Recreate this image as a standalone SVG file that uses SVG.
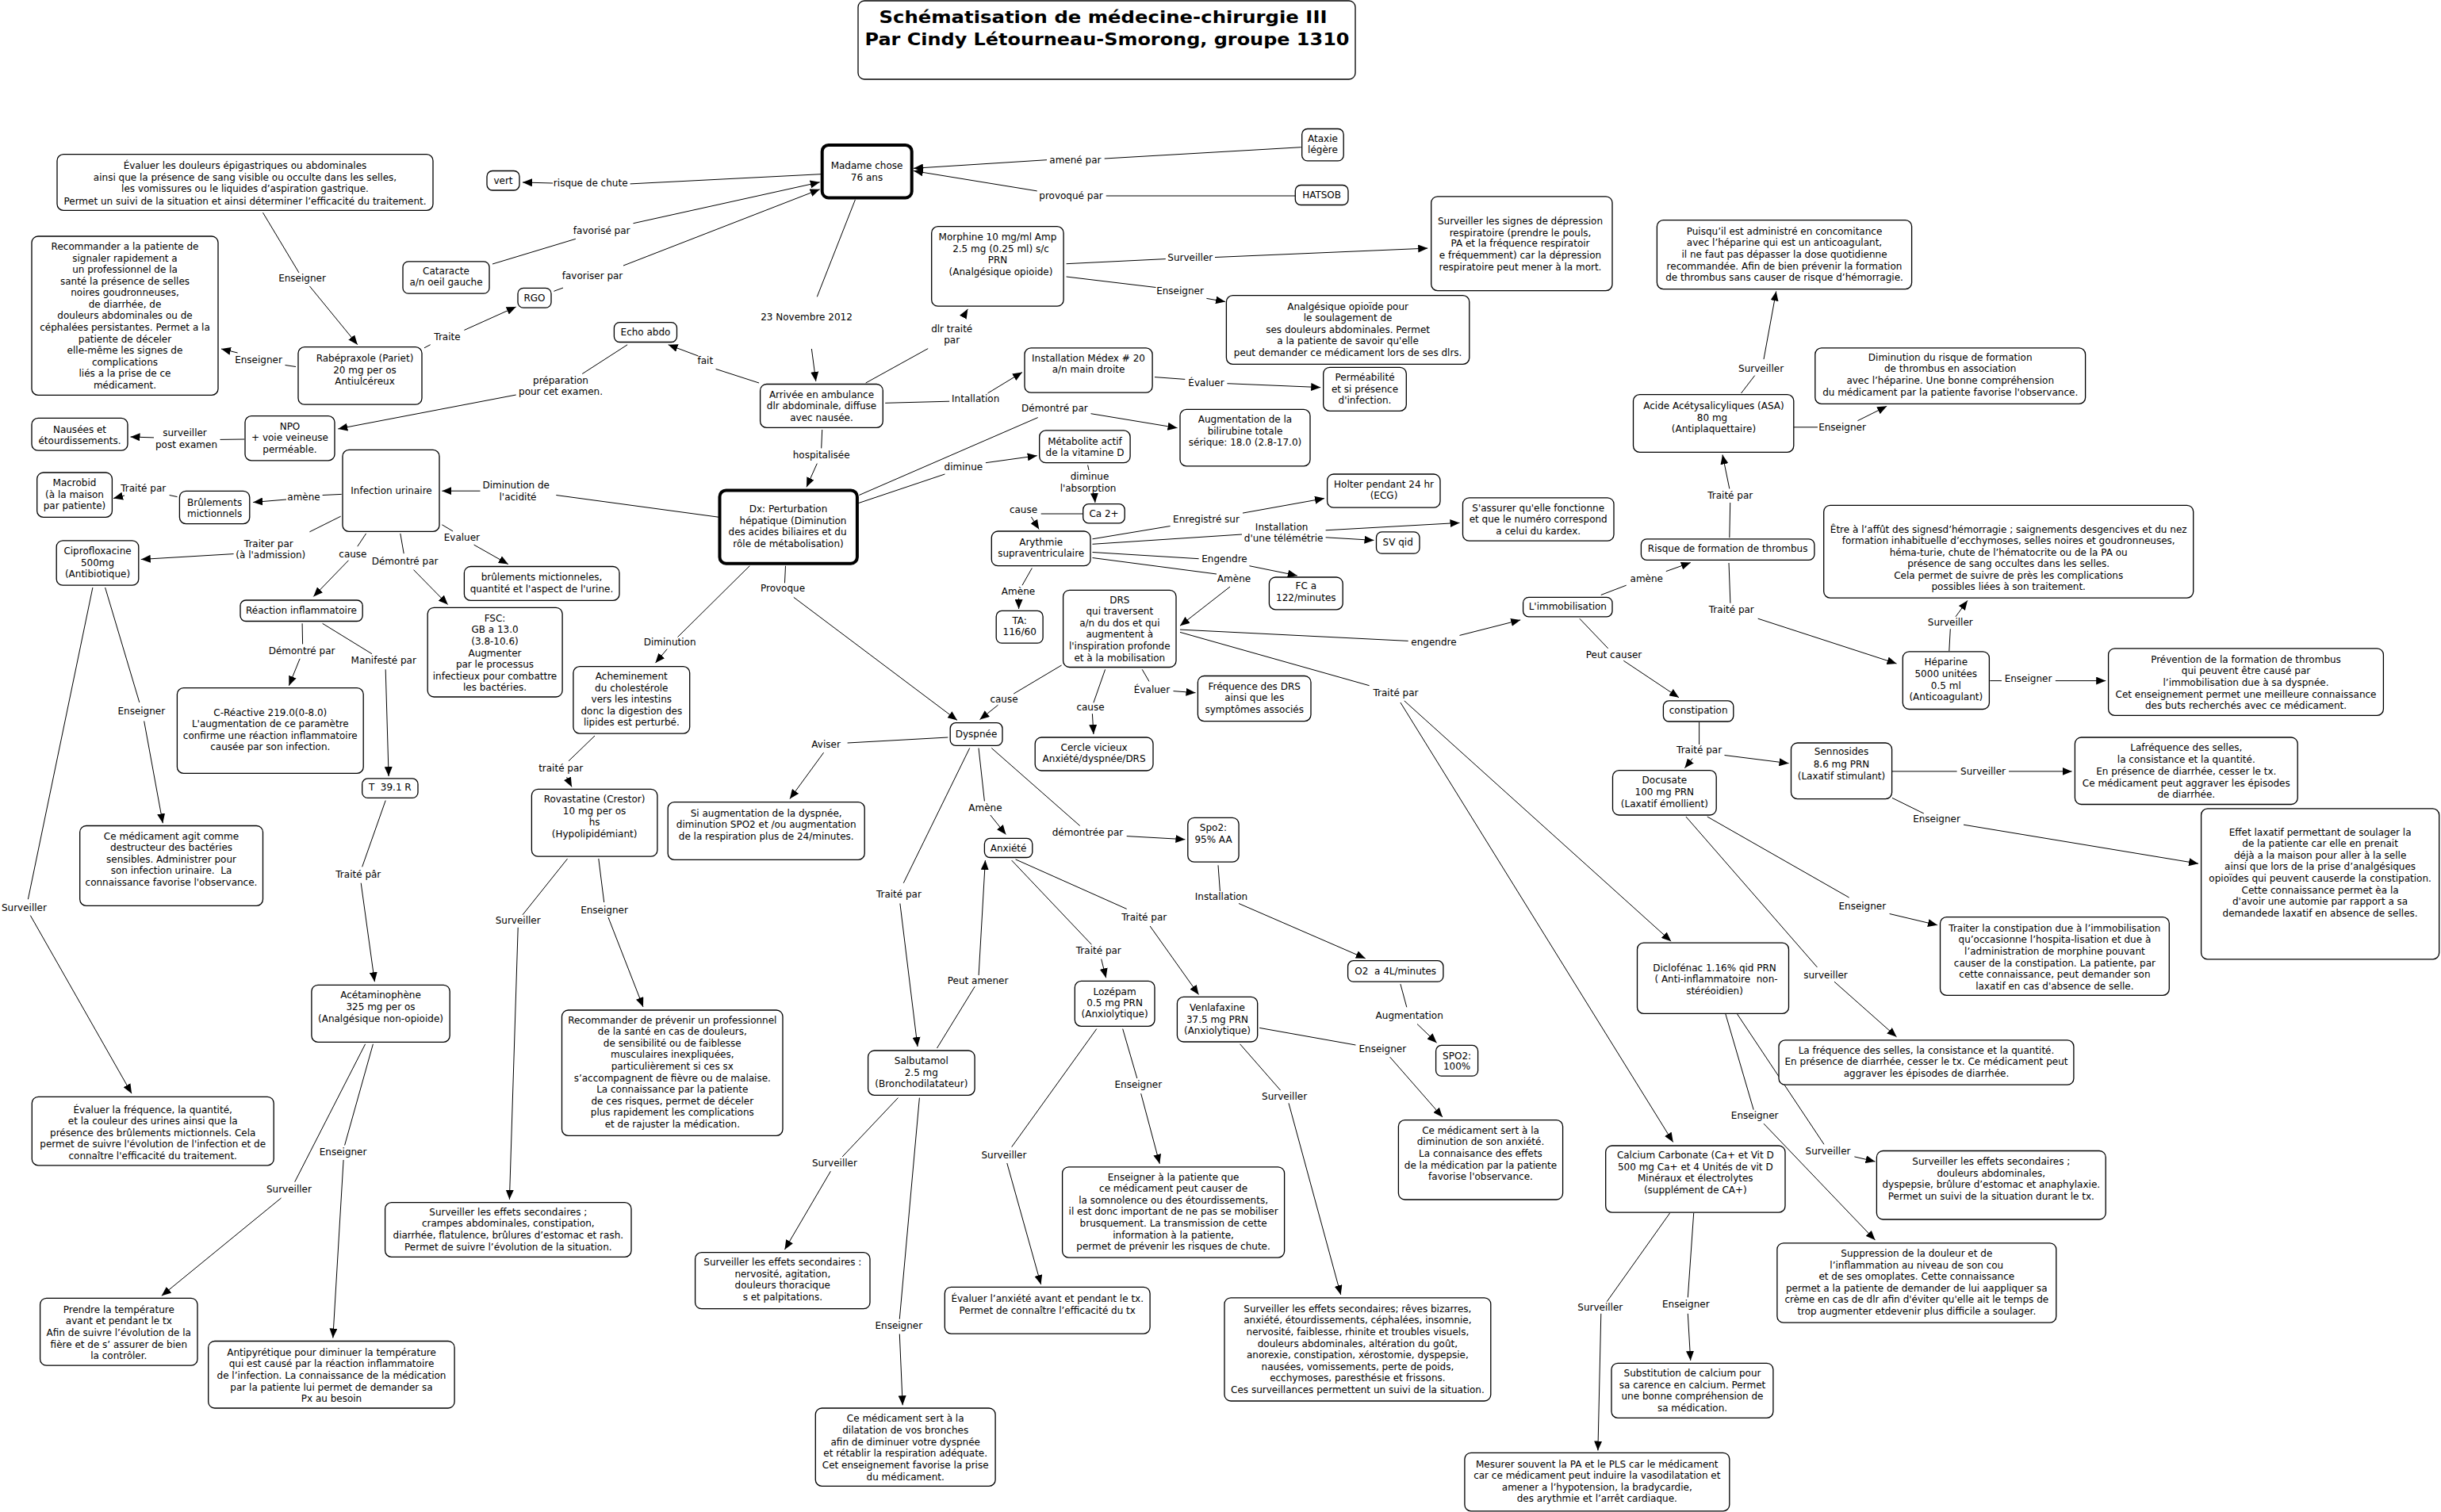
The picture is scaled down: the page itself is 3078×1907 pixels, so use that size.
<svg xmlns="http://www.w3.org/2000/svg" width="3078" height="1907" viewBox="0 0 3078 1907">
<style>
.n{fill:#fff;stroke:#000;stroke-width:1.3}
.nb{fill:#fff;stroke:#000;stroke-width:4}
text{font-family:"DejaVu Sans",Verdana,sans-serif;font-size:12px;text-anchor:middle;dominant-baseline:central;fill:#000}
.ti{font-weight:bold;font-size:22px}
.c path{stroke:#000;stroke-width:1;fill:none;marker-end:url(#ar)}
.c path.l{marker-end:none}
</style>
<defs>
<marker id="ar" viewBox="0 0 12 10" refX="12" refY="5" markerWidth="12" markerHeight="10" markerUnits="userSpaceOnUse" orient="auto"><path d="M0,0 L12,5 L0,10 z" fill="#000"/></marker>
</defs>
<rect width="3078" height="1907" fill="#fff"/>

<g class="c" id="connectors">
<path d="M1036.7,219.6 L794.6,231.9 M697,231 L659,230"/>
<text x="744.7" y="231">risque de chute</text>
<path d="M621,333 L725.9,301.3 M798.5,281.7 L1033.7,229.8"/>
<text x="758.7" y="290.6">favorisé par</text>
<path d="M698.4,367.3 L710,363 M786,335 L1033.7,238.8"/>
<text x="747" y="347.8">favoriser par</text>
<path d="M1640.7,185.7 L1392.7,200 M1320,201.7 L1152,212.3"/>
<text x="1355.9" y="201.7">amené par</text>
<path d="M1633.3,247 L1394.7,247 M1307.7,240.9 L1152,215.5"/>
<text x="1350.5" y="247">provoqué par</text>
<path d="M1078.4,251.9 L1030.3,374.3 M1023.4,440 L1028.8,480.9"/>
<text x="1017" y="400">23 Novembre 2012</text>
<path d="M957.1,483 L902.6,465.4 M880.5,449 L842.7,434.8"/>
<text x="889.3" y="455.2">fait</text>
<path d="M791.1,434.8 L734.2,471.5 M650.7,498 L426.3,540.9"/>
<text x="707" y="479.6">préparation</text>
<text x="707" y="494.3">pour cet examen.</text>
<path d="M308,554 L277.5,554.4 M194,551.9 L164.5,551"/>
<text x="233" y="545.8">surveiller</text>
<text x="235" y="560.5">post examen</text>
<path d="M331.5,268.2 L377,344 M390.4,360.9 L450.8,434.7"/>
<text x="381" y="350.6">Enseigner</text>
<path d="M373,462.5 L359.5,460.5 M299.6,445 L279,440"/>
<text x="326" y="453.5">Enseigner</text>
<path d="M535,438.8 L542.7,434.7 M585.4,416.4 L650.7,387"/>
<text x="564" y="425.3">Traite</text>
<path d="M1091.7,483 L1170.2,439.6 M1214.4,400 L1220.3,389.8"/>
<text x="1200.2" y="414.8">dlr traité</text>
<text x="1200.2" y="429.4">par</text>
<path d="M1344.6,332.7 L1469.8,326.6 M1532,324.5 L1800.2,313.1"/>
<text x="1500.8" y="325">Surveiller</text>
<path d="M1344.6,349 L1457.5,362.5 M1521.4,376.4 L1545,380.5"/>
<text x="1488" y="366.6">Enseigner</text>
<path d="M1116.2,508.3 L1197.2,506.2 M1245.4,496 L1289,469.5"/>
<text x="1230.2" y="502.9">Intallation</text>
<path d="M1456,475.6 L1494.3,478.4 M1547.4,483.7 L1665.2,488.6"/>
<text x="1521" y="483.3">Évaluer</text>
<path d="M1036.7,542 L1035.7,565.4 M1030.3,584.6 L1017,614.3"/>
<text x="1035.7" y="573.5">hospitalisée</text>
<path d="M1083.3,624.5 L1308.7,526.6 M1375.5,521.7 L1484.5,539.7"/>
<text x="1329.9" y="515.2">Démontré par</text>
<path d="M1081.8,634.8 L1191.4,598 M1242.9,583.7 L1307.7,574.7"/>
<text x="1214.9" y="588.6">diminue</text>
<path d="M1371.6,586.6 L1373,593 M1380,623 L1380.9,634"/>
<text x="1374" y="600.9">diminue</text>
<text x="1372" y="615.6">l'absorption</text>
<path d="M1365.2,648 L1312.7,648 M1300.4,652 L1310.2,667.6"/>
<text x="1290.5" y="642.7">cause</text>
<path d="M1377.5,679.8 L1475.6,663.5 M1567,647.1 L1670,628.6"/>
<text x="1521" y="654.5">Enregistré sur</text>
<path d="M1377.5,686.3 L1566,674 M1671.6,668.8 L1840.5,659.4"/>
<path d="M1671.6,677.8 L1732.5,681.4"/>
<text x="1616.1" y="664.7">Installation</text>
<text x="1618.6" y="679.4">d'une télémétrie</text>
<path d="M1377.5,696.5 L1511.6,704.7 M1575.4,713.7 L1635.8,726"/>
<text x="1544" y="704.7">Engendre</text>
<path d="M1377.5,703.5 L1534,724 M1551,740 L1488,789.2"/>
<text x="1556" y="730">Amène</text>
<path d="M1301.3,716.5 L1289,738.2 M1284.6,754.5 L1284.6,768"/>
<text x="1284" y="746.3">Amène</text>
<path d="M1338.6,839 L1278.2,875 M1258.5,889.2 L1235.5,907.6"/>
<text x="1266" y="881.9">cause</text>
<path d="M1393.6,844.3 L1378.9,886.3 M1377.4,900.2 L1378.9,926"/>
<text x="1375" y="892.4">cause</text>
<path d="M1440.2,844.3 L1449,859.4 M1479.5,871.6 L1507.5,873.7"/>
<text x="1452.5" y="869.6">Évaluer</text>
<path d="M1488,794.1 L1775.7,808.4 M1840.5,801.4 L1917.2,781.9"/>
<text x="1808" y="809.6">engendre</text>
<path d="M1488,797.4 L1726.6,864.7 M1770.8,883.9 L2107.2,1187.2"/>
<path d="M1765.9,886 L2109.7,1440.5"/>
<text x="1760" y="873.7">Traité par</text>
<path d="M907.5,652.4 L701.3,624.5 M605.5,619.2 L557.4,619.2"/>
<text x="650.7" y="612.3">Diminution de</text>
<text x="653" y="626.6">l'acidité</text>
<path d="M430.7,623.4 L406.6,624.5 M361,630 L319.2,633.5"/>
<text x="383" y="626.6">amène</text>
<path d="M223.5,626.6 L213.6,624.5 M157,625 L143,628.6"/>
<text x="180.7" y="615.5">Traité par</text>
<path d="M429.7,651.2 L390.4,670.8 M294.6,698.6 L177.8,705.5"/>
<text x="338.8" y="685.5">Traiter par</text>
<text x="341.3" y="700.2">(à l'admission)</text>
<path d="M461.6,672.9 L450.8,689.2 M439.5,706.7 L395.3,752.4"/>
<text x="444.9" y="698.6">cause</text>
<path d="M504.8,672.9 L509.2,698.2 M521.5,718.6 L564.7,762.6"/>
<text x="510.6" y="707.5">Démontré par</text>
<path d="M557.4,661.8 L571.1,670 M597.6,687.1 L640.8,711.6"/>
<text x="582.4" y="677.8">Evaluer</text>
<path d="M381.1,786.3 L381.6,812.4 M378.1,830.8 L364.4,864.7"/>
<text x="380.6" y="820.6">Démontré par</text>
<path d="M406.6,786.3 L469,824.7 M486.2,844.3 L490.1,979"/>
<text x="483.7" y="833.3">Manifesté par</text>
<path d="M486.2,1009.6 L456.7,1093.3 M455.2,1113.7 L472.4,1238.2"/>
<text x="451.8" y="1102.8">Traité pâr</text>
<path d="M132.6,741 L175.8,885.9 M181.7,909.5 L205.3,1038.2"/>
<text x="178.3" y="896.5">Enseigner</text>
<path d="M116.9,741 L35.4,1134.2 M38.3,1154.6 L166,1379.2"/>
<text x="30.4" y="1144.8">Surveiller</text>
<path d="M460.6,1316.8 L371.7,1490.7 M354.5,1511 L203.8,1634.3"/>
<text x="364.4" y="1499.7">Surveiller</text>
<path d="M470.4,1316.8 L434.6,1444.5 M433.1,1463 L419.8,1687.5"/>
<text x="432.6" y="1452.7">Enseigner</text>
<path d="M945.3,713.7 L854.5,803.5 M841.2,818.6 L826.5,836.1"/>
<text x="844.6" y="810.4">Diminution</text>
<path d="M750,928 L717,959.8 M714.6,980.2 L721,992.4"/>
<text x="707.2" y="968.8">traité par</text>
<path d="M715.5,1083.1 L659,1153.8 M653.2,1169.8 L642.4,1512.8"/>
<text x="653.2" y="1160.7">Surveiller</text>
<path d="M754.8,1083 L761.7,1138 M767,1157 L811,1270"/>
<text x="762" y="1147.6">Enseigner</text>
<path d="M990.5,713.7 L989.5,735.3 M1000.8,753.3 L1207,908.4"/>
<text x="987" y="742.2">Provoque</text>
<path d="M1195.3,930 L1068.6,937 M1038.6,949.2 L995.9,1007.6"/>
<text x="1041.6" y="939.4">Aviser</text>
<path d="M1234,943.5 L1241.4,1010.4 M1248.8,1028 L1268.4,1052.5"/>
<text x="1242.4" y="1018.6">Amène</text>
<path d="M1250.3,943.5 L1361.7,1041.5 M1420.7,1054.6 L1494.4,1058.7"/>
<text x="1371.5" y="1050.4">démontrée par</text>
<path d="M1222.7,943.5 L1139.3,1113.7 M1134.9,1139.5 L1157,1320"/>
<text x="1133.4" y="1128.4">Traité par</text>
<path d="M1181.5,1322 L1229.2,1244.3 M1234.1,1230 L1242.4,1085.1"/>
<text x="1233.1" y="1236.6">Peut amener</text>
<path d="M1275.7,1085.1 L1376.4,1191.3 M1388.7,1209.6 L1394.6,1233.3"/>
<text x="1385.3" y="1199.4">Traité par</text>
<path d="M1280.6,1083.9 L1420.7,1146.4 M1450.1,1168 L1511.5,1254.5"/>
<text x="1442.7" y="1156.6">Traité par</text>
<path d="M1536,1091.3 L1538.4,1124 M1562,1139.5 L1721.7,1208.8"/>
<text x="1540" y="1131">Installation</text>
<path d="M1765.9,1241.1 L1773.8,1270.3 M1787,1291.5 L1811.6,1315.2"/>
<text x="1777.2" y="1280.5">Augmentation</text>
<path d="M1132.4,1384.6 L1062.2,1458.9 M1047.4,1477.2 L989.5,1576"/>
<text x="1052.4" y="1467">Surveiller</text>
<path d="M1159.4,1384.6 L1134.3,1663.7 M1134.3,1682.5 L1138.2,1772.3"/>
<text x="1133.3" y="1671.9">Enseigner</text>
<path d="M1382.8,1297.6 L1275.7,1446.6 M1269.8,1467 L1312.6,1620.1"/>
<text x="1265.9" y="1456.8">Surveiller</text>
<path d="M1415.7,1297.6 L1433.8,1360 M1438.7,1379.2 L1462.3,1467.8"/>
<text x="1435.3" y="1367.8">Enseigner</text>
<path d="M1588.1,1296.4 L1709.4,1318 M1752.6,1333.1 L1819,1409"/>
<text x="1743.3" y="1322.5">Enseigner</text>
<path d="M1563.6,1316.8 L1614.6,1375.1 M1625,1391.4 L1690.7,1633"/>
<text x="1619.6" y="1382.5">Surveiller</text>
<path d="M2018.8,750.4 L2050.7,738.2 M2100.8,720.6 L2131.8,709.6"/>
<text x="2076.3" y="729.6">amène</text>
<path d="M1991.8,780.2 L2027.7,817.8 M2047.3,833.3 L2117,879.8"/>
<text x="2035" y="826">Peut causer</text>
<path d="M2180.8,678.2 L2181.7,634 M2180.8,616.4 L2172,573.5"/>
<text x="2181.7" y="625.4">Traité par</text>
<path d="M2180,710 L2181.9,760.7 M2216.7,780.2 L2391.5,837"/>
<text x="2183.3" y="768.8">Traité par</text>
<path d="M2195.5,496 L2212.7,473.6 M2224,453.1 L2239.7,367.4"/>
<text x="2220.6" y="465.4">Surveiller</text>
<path d="M2261.8,538.8 L2292,538.8 M2342.4,530.7 L2379.2,512.3"/>
<text x="2323" y="538.8">Enseigner</text>
<path d="M2457.8,821 L2459.3,793.3 M2466,777.8 L2480.9,757.4"/>
<text x="2459.3" y="784.7">Surveiller</text>
<path d="M2509.3,858.6 L2524,858.6 M2591.8,858.6 L2655.2,858.6"/>
<text x="2557.5" y="856.4">Enseigner</text>
<path d="M2142.6,911 L2142.6,939 M2134.2,956.6 L2124.4,968.8"/>
<path d="M2174.5,952.5 L2255.5,962.7"/>
<text x="2142.6" y="946.4">Traité par</text>
<path d="M2386,972.9 L2467.6,972.9 M2533,972.9 L2612.5,972.9"/>
<text x="2500.5" y="972.9">Surveiller</text>
<path d="M2386,1006.4 L2425.8,1026 M2476,1040.2 L2772,1089.2"/>
<text x="2442" y="1033.3">Enseigner</text>
<path d="M2152.8,1030 L2331.6,1132 M2382.6,1152.5 L2443,1166.8"/>
<text x="2348.3" y="1143">Enseigner</text>
<path d="M2125.9,1030 L2291.4,1219.9 M2313,1238.2 L2391.5,1307.8"/>
<text x="2302" y="1230">surveiller</text>
<path d="M2175.9,1279 L2211.2,1399.7 M2224,1417.2 L2364.5,1564.1"/>
<text x="2212.7" y="1406.6">Enseigner</text>
<path d="M2190.6,1279 L2300,1443.3 M2338.4,1458.9 L2364.5,1465"/>
<text x="2305" y="1452">Surveiller</text>
<path d="M2105.6,1530 L2026.2,1641.7 M2018.8,1656.8 L2014.9,1829.5"/>
<text x="2017.8" y="1648.6">Surveiller</text>
<path d="M2135.7,1530 L2128.3,1636.4 M2128.3,1656.8 L2131.7,1716"/>
<text x="2125.8" y="1645.3">Enseigner</text>
</g>

<g id="title"><rect class="n" x="1082" y="1" width="627" height="99" rx="8"/>
<text class="ti" x="1391" y="21" textLength="565" lengthAdjust="spacingAndGlyphs">Schématisation de médecine-chirurgie III</text>
<text class="ti" x="1396" y="49" textLength="611" lengthAdjust="spacingAndGlyphs">Par Cindy Létourneau-Smorong, groupe 1310</text></g>

<g id="madame"><rect class="nb" x="1036.7" y="182.9" width="113" height="66.5" rx="8"/>
<text><tspan x="1093" y="209">Madame chose</tspan><tspan x="1093" y="223.7">76 ans</tspan></text></g>
<g id="vert"><rect class="n" x="614" y="215.5" width="41" height="24.5" rx="7"/><text x="634.5" y="228">vert</text></g>
<g id="ataxie"><rect class="n" x="1641.7" y="162.5" width="52.5" height="40.4" rx="7"/>
<text><tspan x="1668" y="174.7">Ataxie</tspan><tspan x="1668" y="189">légère</tspan></text></g>
<g id="hatsob"><rect class="n" x="1633.3" y="233.5" width="66.7" height="25" rx="7"/><text x="1666.6" y="246">HATSOB</text></g>
<g id="evaldouleurs"><rect class="n" x="72" y="194.7" width="474" height="70.6" rx="8"/>
<text><tspan x="309" y="209.4">Évaluer les douleurs épigastriques ou abdominales</tspan><tspan x="309" y="224.1">ainsi que la présence de sang visible ou occulte dans les selles,</tspan><tspan x="309" y="238.4">les vomissures ou le liquides d’aspiration gastrique.</tspan><tspan x="309" y="253.5">Permet un suivi de la situation et ainsi déterminer l’efficacité du traitement.</tspan></text></g>
<g id="recommander"><rect class="n" x="40" y="298" width="235" height="200.4" rx="8"/>
<text><tspan x="157.5" y="311">Recommander a la patiente de</tspan><tspan x="157.5" y="325.6">signaler rapidement a</tspan><tspan x="157.5" y="340.2">un professionnel de la</tspan><tspan x="157.5" y="354.7">santé la présence de selles</tspan><tspan x="157.5" y="369.3">noires goudronneuses,</tspan><tspan x="157.5" y="383.9">de diarrhée, de</tspan><tspan x="157.5" y="398.4">douleurs abdominales ou de</tspan><tspan x="157.5" y="413">céphalées persistantes. Permet a la</tspan><tspan x="157.5" y="427.6">patiente de déceler</tspan><tspan x="157.5" y="442.1">elle-même les signes de</tspan><tspan x="157.5" y="456.7">complications</tspan><tspan x="157.5" y="471.3">liés a la prise de ce</tspan><tspan x="157.5" y="485.8">médicament.</tspan></text></g>
<g id="cataracte"><rect class="n" x="508" y="329.8" width="109" height="40.4" rx="7"/>
<text><tspan x="562.5" y="341.6">Cataracte</tspan><tspan x="562.5" y="356.3">a/n oeil gauche</tspan></text></g>
<g id="rgo"><rect class="n" x="653" y="363.3" width="42" height="24.9" rx="7"/><text x="674" y="375.8">RGO</text></g>
<g id="rabepraxole"><rect class="n" x="376" y="437.6" width="156" height="72.6" rx="8"/>
<text><tspan x="460" y="451.9">Rabépraxole (Pariet)</tspan><tspan x="460" y="466.6">20 mg per os</tspan><tspan x="460" y="480.9">Antiulcéreux</tspan></text></g>
<g id="echo"><rect class="n" x="774.4" y="406.6" width="79.1" height="24.9" rx="7"/><text x="814" y="419">Echo abdo</text></g>
<g id="morphine"><rect class="n" x="1174.7" y="285.7" width="166.4" height="100.5" rx="8"/>
<text><tspan x="1258" y="299.2">Morphine 10 mg/ml Amp</tspan><tspan x="1262" y="313.9">2.5 mg (0.25 ml) s/c</tspan><tspan x="1258" y="327.8">PRN</tspan><tspan x="1262" y="342.9">(Analgésique opioide)</tspan></text></g>
<g id="survsignes"><rect class="n" x="1804.7" y="247.8" width="228.3" height="118.8" rx="8"/>
<text><tspan x="1917" y="278.8">Surveiller les signes de dépression</tspan><tspan x="1917" y="293.5">respiratoire (prendre le pouls,</tspan><tspan x="1917" y="307.4">PA et la fréquence respiratoir</tspan><tspan x="1917" y="322.1">e fréquemment) car la dépression</tspan><tspan x="1917" y="336.8">respiratoire peut mener à la mort.</tspan></text></g>
<g id="analgesique"><rect class="n" x="1546.4" y="372.7" width="306.4" height="86.6" rx="8"/>
<text><tspan x="1699.6" y="386.6">Analgésique  opioïde pour</tspan><tspan x="1699.6" y="401.3">le soulagement de</tspan><tspan x="1699.6" y="416">ses douleurs  abdominales. Permet</tspan><tspan x="1699.6" y="430.3">a la patiente de savoir qu'elle</tspan><tspan x="1699.6" y="445">peut demander ce médicament lors de ses dlrs.</tspan></text></g>
<g id="arrivee"><rect class="n" x="958.6" y="484.5" width="154.7" height="54.8" rx="8"/>
<text><tspan x="1036" y="497.6">Arrivée en ambulance</tspan><tspan x="1036" y="511.9">dlr abdominale, diffuse</tspan><tspan x="1036" y="526.6">avec nausée.</tspan></text></g>
<g id="medex"><rect class="n" x="1292" y="438.9" width="161.1" height="56.3" rx="8"/>
<text><tspan x="1372.5" y="451.5">Installation Médex # 20</tspan><tspan x="1372.5" y="466.2">a/n main droite</tspan></text></g>
<g id="permeabilite"><rect class="n" x="1668.7" y="463.3" width="104.6" height="55.1" rx="8"/>
<text><tspan x="1721" y="476.4">Perméabilité</tspan><tspan x="1721" y="491">et si présence</tspan><tspan x="1721" y="505.3">d'infection.</tspan></text></g>
<g id="npo"><rect class="n" x="309" y="524.6" width="113" height="56.3" rx="8"/>
<text><tspan x="365.5" y="538">NPO</tspan><tspan x="365.5" y="552.3">+ voie veineuse</tspan><tspan x="365.5" y="566.6">perméable.</tspan></text></g>
<g id="nausees"><rect class="n" x="40" y="527.4" width="121" height="40.8" rx="8"/>
<text><tspan x="100.5" y="541.7">Nausées et</tspan><tspan x="100.5" y="556">étourdissements.</tspan></text></g>
<g id="bilirubine"><rect class="n" x="1488" y="516.4" width="164" height="71.4" rx="8"/>
<text><tspan x="1570" y="529">Augmentation de la</tspan><tspan x="1570" y="543.7">bilirubine totale</tspan><tspan x="1570" y="558">sérique: 18.0 (2.8-17.0)</tspan></text></g>
<g id="metabolite"><rect class="n" x="1310.7" y="542.9" width="114.4" height="40.8" rx="8"/>
<text><tspan x="1368" y="556.8">Métabolite actif</tspan><tspan x="1368" y="571">de la vitamine D</tspan></text></g>
<g id="ca"><rect class="n" x="1365.7" y="635.7" width="52.5" height="24.1" rx="7"/><text x="1392" y="648">Ca 2+</text></g>
<g id="holter"><rect class="n" x="1673.6" y="598" width="142.4" height="42.2" rx="8"/>
<text><tspan x="1745" y="611">Holter pendant 24 hr</tspan><tspan x="1745" y="625.4">(ECG)</tspan></text></g>
<g id="sassurer"><rect class="n" x="1844.5" y="627.8" width="190.5" height="54.4" rx="8"/>
<text><tspan x="1939.7" y="641">S'assurer qu'elle fonctionne</tspan><tspan x="1939.7" y="655.3">et que le numéro correspond</tspan><tspan x="1939.7" y="670">a celui du kardex.</tspan></text></g>
<g id="svqid"><rect class="n" x="1735.5" y="670.8" width="54.5" height="27.4" rx="7"/><text x="1762.7" y="684">SV qid</text></g>
<g id="fc"><rect class="n" x="1600.4" y="728" width="92.8" height="40.8" rx="8"/>
<text><tspan x="1646.8" y="739.4">FC a</tspan><tspan x="1646.8" y="754.1">122/minutes</tspan></text></g>
<g id="arythmie"><rect class="n" x="1250.3" y="670" width="124.7" height="43.7" rx="8"/>
<text><tspan x="1312.7" y="683.5">Arythmie</tspan><tspan x="1312.7" y="698.2">supraventriculaire</tspan></text></g>
<g id="ta"><rect class="n" x="1256.2" y="770.4" width="58.9" height="40.8" rx="7"/>
<text><tspan x="1285.7" y="782.7">TA:</tspan><tspan x="1285.7" y="797">116/60</tspan></text></g>
<g id="drs"><rect class="n" x="1340.6" y="744.3" width="142.4" height="97.2" rx="8"/>
<text><tspan x="1411.8" y="756.5">DRS</tspan><tspan x="1411.8" y="771.2">qui traversent</tspan><tspan x="1411.8" y="785.5">a/n du dos et qui</tspan><tspan x="1411.8" y="800.2">augmentent à</tspan><tspan x="1411.8" y="814.9">l'inspiration profonde</tspan><tspan x="1411.8" y="829.6">et à la mobilisation</tspan></text></g>
<g id="cercle"><rect class="n" x="1305.2" y="930" width="148.8" height="42" rx="8"/>
<text><tspan x="1379.6" y="943">Cercle vicieux</tspan><tspan x="1379.6" y="957.4">Anxiété/dyspnée/DRS</tspan></text></g>
<g id="freqdrs"><rect class="n" x="1510.4" y="852.5" width="142.6" height="57.1" rx="8"/>
<text><tspan x="1581.7" y="865.5">Fréquence des DRS</tspan><tspan x="1581.7" y="880.2">ainsi que les</tspan><tspan x="1581.7" y="894.5">symptômes associés</tspan></text></g>
<g id="dx"><rect class="nb" x="907.5" y="618.4" width="173.4" height="92.4" rx="8"/>
<text><tspan x="994" y="641.8">Dx: Perturbation</tspan><tspan x="1000" y="656.5">hépatique (Diminution</tspan><tspan x="993" y="671.2">des acides biliaires et du</tspan><tspan x="994" y="685.5">rôle de métabolisation)</tspan></text></g>
<g id="infection"><rect class="n" x="432" y="567.4" width="122" height="103" rx="8"/><text x="493.5" y="619.3">Infection urinaire</text></g>
<g id="macrobid"><rect class="n" x="46.7" y="596" width="94.7" height="56.4" rx="8"/>
<text><tspan x="94" y="609">Macrobid</tspan><tspan x="94" y="623.7">(à la maison</tspan><tspan x="94" y="638.2">par patiente)</tspan></text></g>
<g id="brulements"><rect class="n" x="226.4" y="619.3" width="88.4" height="41.3" rx="8"/>
<text><tspan x="270.6" y="633.5">Brûlements</tspan><tspan x="270.6" y="648">mictionnels</tspan></text></g>
<g id="cipro"><rect class="n" x="71.2" y="681.8" width="103.6" height="56.4" rx="8"/>
<text><tspan x="123" y="694.9">Ciprofloxacine</tspan><tspan x="123" y="709.6">500mg</tspan><tspan x="123" y="724.3">(Antibiotique)</tspan></text></g>
<g id="brulurine"><rect class="n" x="585.4" y="714.5" width="195.6" height="42.9" rx="8"/>
<text><tspan x="683" y="728.4">brûlements mictionneles,</tspan><tspan x="683" y="743.1">quantité et l'aspect de l'urine.</tspan></text></g>
<g id="reaction"><rect class="n" x="303" y="757" width="154.2" height="26.5" rx="7"/><text x="380" y="770.4">Réaction inflammatoire</text></g>
<g id="fsc"><rect class="n" x="539.2" y="766.3" width="169.9" height="112.7" rx="8"/>
<text><tspan x="624" y="779.8">FSC:</tspan><tspan x="624" y="794.4">GB a 13.0</tspan><tspan x="624" y="808.9">(3.8-10.6)</tspan><tspan x="624" y="823.5">Augmenter</tspan><tspan x="624" y="838.1">par le processus</tspan><tspan x="624" y="852.6">infectieux pour combattre</tspan><tspan x="624" y="867.2">les bactéries.</tspan></text></g>
<g id="creactive"><rect class="n" x="223.4" y="867.6" width="234.8" height="107.8" rx="8"/>
<text><tspan x="340.8" y="898.6">C-Réactive 219.0(0-8.0)</tspan><tspan x="340.8" y="913.3">L'augmentation de ce paramètre</tspan><tspan x="340.8" y="928">confirme une réaction inflammatoire</tspan><tspan x="340.8" y="942.3">causée par son infection.</tspan></text></g>
<g id="temp"><rect class="n" x="456.7" y="981.9" width="70.3" height="24.5" rx="7"/><text x="491.8" y="993.4">T&#160; 39.1 R</text></g>
<g id="acheminement"><rect class="n" x="722.9" y="840.6" width="146.8" height="84.5" rx="8"/>
<text><tspan x="796.3" y="852.9">Acheminement</tspan><tspan x="796.3" y="867.6">du cholestérole</tspan><tspan x="796.3" y="881.9">vers les intestins</tspan><tspan x="796.3" y="896.6">donc la digestion des</tspan><tspan x="796.3" y="911.3">lipides est perturbé.</tspan></text></g>
<g id="rovastatine"><rect class="n" x="670.4" y="995.3" width="158.5" height="84.9" rx="8"/>
<text><tspan x="749.6" y="1008">Rovastatine (Crestor)</tspan><tspan x="749.6" y="1022.6">10 mg per os</tspan><tspan x="749.6" y="1037">hs</tspan><tspan x="749.6" y="1052">(Hypolipidémiant)</tspan></text></g>
<g id="siaugm"><rect class="n" x="842.2" y="1011.7" width="248" height="72.7" rx="8"/>
<text><tspan x="966.2" y="1026">Si augmentation de la dyspnée,</tspan><tspan x="966.2" y="1040.3">diminution SPO2 et /ou augmentation</tspan><tspan x="966.2" y="1055">de la respiration plus de 24/minutes.</tspan></text></g>
<g id="dyspnee"><rect class="n" x="1198.2" y="911.7" width="65.8" height="28.6" rx="7"/><text x="1231" y="925.6">Dyspnée</text></g>
<g id="anxiete"><rect class="n" x="1241.4" y="1057.4" width="60.4" height="24.1" rx="7"/><text x="1271.6" y="1069.7">Anxiété</text></g>
<g id="spo2"><rect class="n" x="1497.8" y="1031.3" width="64.3" height="55.9" rx="8"/>
<text><tspan x="1530" y="1044.3">Spo2:</tspan><tspan x="1530" y="1058.6">95% AA</tspan></text></g>
<g id="o2"><rect class="n" x="1699.6" y="1211.7" width="120.3" height="26.5" rx="7"/><text x="1759.7" y="1224.8">O2&#160; a 4L/minutes</text></g>
<g id="spo2b"><rect class="n" x="1810.6" y="1318.4" width="53" height="38.8" rx="7"/>
<text><tspan x="1837.1" y="1331.5">SPO2:</tspan><tspan x="1837.1" y="1345.4">100%</tspan></text></g>
<g id="salbutamol"><rect class="n" x="1094.6" y="1325" width="134.5" height="56.3" rx="8"/>
<text><tspan x="1161.8" y="1338">Salbutamol</tspan><tspan x="1161.8" y="1352.7">2.5 mg</tspan><tspan x="1161.8" y="1367">(Bronchodilatateur)</tspan></text></g>
<g id="lozepam"><rect class="n" x="1355.3" y="1237.4" width="100.7" height="56.9" rx="8"/>
<text><tspan x="1405.6" y="1250.5">Lozépam</tspan><tspan x="1405.6" y="1264.8">0.5 mg PRN</tspan><tspan x="1405.6" y="1279.2">(Anxiolytique)</tspan></text></g>
<g id="venlafaxine"><rect class="n" x="1484.4" y="1257.4" width="101.3" height="56.6" rx="8"/>
<text><tspan x="1535" y="1271">Venlafaxine</tspan><tspan x="1535" y="1285.5">37.5 mg PRN</tspan><tspan x="1535" y="1300">(Anxiolytique)</tspan></text></g>
<g id="evalfreq"><rect class="n" x="40.3" y="1383.3" width="304.9" height="86.6" rx="8"/>
<text><tspan x="192.7" y="1399.7">Évaluer la fréquence, la quantité,</tspan><tspan x="192.7" y="1414">et la couleur des urines ainsi que la</tspan><tspan x="192.7" y="1428.6">présence des brûlements mictionnels. Cela</tspan><tspan x="192.7" y="1443.3">permet de suivre l'évolution de l'infection et de</tspan><tspan x="192.7" y="1458">connaître l'efficacité du traitement.</tspan></text></g>
<g id="medagit"><rect class="n" x="100.7" y="1041.5" width="230.8" height="100.8" rx="8"/>
<text><tspan x="216" y="1054.5">Ce médicament agit comme</tspan><tspan x="216" y="1069.2">destructeur des bactéries</tspan><tspan x="216" y="1083.5">sensibles. Administrer pour</tspan><tspan x="216" y="1098.2">son infection urinaire.&#160; La</tspan><tspan x="216" y="1112.9">connaissance favorise l'observance.</tspan></text></g>
<g id="acetaminophene"><rect class="n" x="392.9" y="1242.3" width="174.3" height="72" rx="8"/>
<text><tspan x="480" y="1255.3">Acétaminophène</tspan><tspan x="480" y="1270">325 mg per os</tspan><tspan x="480" y="1285">(Analgésique non-opioide)</tspan></text></g>
<g id="prendre"><rect class="n" x="50.6" y="1637.3" width="198.4" height="84.9" rx="8"/>
<text><tspan x="149.8" y="1651.6">Prendre la température</tspan><tspan x="149.8" y="1666.3">avant et pendant le tx</tspan><tspan x="149.8" y="1681">Afin de suivre l’évolution de la</tspan><tspan x="149.8" y="1695.7">fière et de s’ assurer de bien</tspan><tspan x="149.8" y="1709.9">la contrôler.</tspan></text></g>
<g id="antipyretique"><rect class="n" x="262.7" y="1691.5" width="310.4" height="84.5" rx="8"/>
<text><tspan x="418" y="1705.9">Antipyrétique pour diminuer la température</tspan><tspan x="418" y="1720.1">qui est causé par la réaction inflammatoire</tspan><tspan x="418" y="1734.8">de l’infection. La connaissance de la médication</tspan><tspan x="418" y="1749.9">par la patiente lui permet de demander sa</tspan><tspan x="418" y="1764.2">Px au besoin</tspan></text></g>
<g id="crampes"><rect class="n" x="485.6" y="1516.7" width="310.4" height="68.6" rx="8"/>
<text><tspan x="640.8" y="1528.6">Surveiller les effets secondaires ;</tspan><tspan x="640.8" y="1543.3">crampes abdominales, constipation,</tspan><tspan x="640.8" y="1558">diarrhée, flatulence, brûlures d’estomac et rash.</tspan><tspan x="640.8" y="1572.7">Permet de suivre l’évolution de la situation.</tspan></text></g>
<g id="recprevenir"><rect class="n" x="708.5" y="1274" width="278.5" height="158.3" rx="8"/>
<text><tspan x="847.8" y="1286.6">Recommander de prévenir un professionnel</tspan><tspan x="847.8" y="1301.2">de la santé en cas de douleurs,</tspan><tspan x="847.8" y="1315.8">de sensibilité ou de faiblesse</tspan><tspan x="847.8" y="1330.4">musculaires inexpliquées,</tspan><tspan x="847.8" y="1345">particulièrement si ces sx</tspan><tspan x="847.8" y="1359.6">s’accompagnent de fièvre ou de malaise.</tspan><tspan x="847.8" y="1374.2">La connaissance par la patiente</tspan><tspan x="847.8" y="1388.8">de ces risques, permet de déceler</tspan><tspan x="847.8" y="1403.4">plus rapidement les complications</tspan><tspan x="847.8" y="1418">et de rajuster la médication.</tspan></text></g>
<g id="nervosite"><rect class="n" x="876.6" y="1579.7" width="220.4" height="71" rx="8"/>
<text><tspan x="986.8" y="1592">Surveiller les effets secondaires :</tspan><tspan x="986.8" y="1606.7">nervosité, agitation,</tspan><tspan x="986.8" y="1620.9">douleurs thoracique</tspan><tspan x="986.8" y="1635.6">s et palpitations.</tspan></text></g>
<g id="dilatation"><rect class="n" x="1028.3" y="1776" width="226.8" height="98.4" rx="8"/>
<text><tspan x="1141.7" y="1789.4">Ce médicament sert à la</tspan><tspan x="1141.7" y="1804.1">dilatation de vos bronches</tspan><tspan x="1141.7" y="1818.8">afin de diminuer votre dyspnée</tspan><tspan x="1141.7" y="1833.1">et rétablir la respiration adéquate.</tspan><tspan x="1141.7" y="1847.8">Cet enseignement favorise la prise</tspan><tspan x="1141.7" y="1862.5">du médicament.</tspan></text></g>
<g id="evalanx"><rect class="n" x="1191.3" y="1623.3" width="258.8" height="58.8" rx="8"/>
<text><tspan x="1320.7" y="1638.4">Évaluer l’anxiété avant et pendant le tx.</tspan><tspan x="1320.7" y="1653.1">Permet de connaître l’efficacité du tx</tspan></text></g>
<g id="enspatiente"><rect class="n" x="1339.6" y="1471.8" width="280" height="114.3" rx="8"/>
<text><tspan x="1479.6" y="1484.5">Enseigner à la patiente que</tspan><tspan x="1479.6" y="1499.2">ce médicament peut causer de</tspan><tspan x="1479.6" y="1513.5">la somnolence ou des étourdissements,</tspan><tspan x="1479.6" y="1528.2">il est donc important de ne pas se mobiliser</tspan><tspan x="1479.6" y="1542.9">brusquement. La transmission de cette</tspan><tspan x="1479.6" y="1557.6">information à la patiente,</tspan><tspan x="1479.6" y="1571.9">permet de prévenir les risques de chute.</tspan></text></g>
<g id="diminanx"><rect class="n" x="1763.4" y="1412.7" width="207.2" height="100.3" rx="8"/>
<text><tspan x="1867" y="1425.8">Ce médicament sert à la</tspan><tspan x="1867" y="1440.1">diminution de son anxiété.</tspan><tspan x="1867" y="1454.8">La connaisance des effets</tspan><tspan x="1867" y="1469.5">de la médication par la patiente</tspan><tspan x="1867" y="1483.7">favorise l'observance.</tspan></text></g>
<g id="reves"><rect class="n" x="1544" y="1636.8" width="335.8" height="130.2" rx="8"/>
<text><tspan x="1711.9" y="1651">Surveiller les effets secondaires; rêves bizarres,</tspan><tspan x="1711.9" y="1665.4">anxiété, étourdissements, céphalées, insomnie,</tspan><tspan x="1711.9" y="1680">nervosité, faiblesse, rhinite et troubles visuels,</tspan><tspan x="1711.9" y="1694.6">douleurs abdominales, altération du goût,</tspan><tspan x="1711.9" y="1709">anorexie, constipation, xérostomie, dyspepsie,</tspan><tspan x="1711.9" y="1723.6">nausées, vomissements, perte de poids,</tspan><tspan x="1711.9" y="1738">ecchymoses, paresthésie et frissons.</tspan><tspan x="1711.9" y="1752.6">Ces surveillances permettent un suivi de la situation.</tspan></text></g>
<g id="immobilisation"><rect class="n" x="1920.6" y="753.3" width="112.4" height="24.5" rx="7"/><text x="1976.8" y="764.7">L'immobilisation</text></g>
<g id="thrombus"><rect class="n" x="2069.4" y="679.8" width="218.5" height="26.5" rx="7"/><text x="2178.6" y="692">Risque de formation de thrombus</text></g>
<g id="puisquil"><rect class="n" x="2089.4" y="277.6" width="321.2" height="87" rx="8"/>
<text><tspan x="2250" y="291.9">Puisqu’il est administré en concomitance</tspan><tspan x="2250" y="306.2">avec l’héparine qui est un anticoagulant,</tspan><tspan x="2250" y="320.9">il ne faut pas dépasser la dose quotidienne</tspan><tspan x="2250" y="335.6">recommandée. Afin de bien prévenir la formation</tspan><tspan x="2250" y="349.8">de thrombus sans causer de risque d’hémorragie.</tspan></text></g>
<g id="asa"><rect class="n" x="2059.5" y="497.6" width="202.3" height="72.7" rx="8"/>
<text><tspan x="2161" y="511.9">Acide Acétysalicyliques (ASA)</tspan><tspan x="2159" y="526.6">80 mg</tspan><tspan x="2161" y="541.3">(Antiplaquettaire)</tspan></text></g>
<g id="dimrisque"><rect class="n" x="2288.8" y="438.9" width="340.8" height="70.5" rx="8"/>
<text><tspan x="2459.2" y="451">Diminution du risque de formation</tspan><tspan x="2459.2" y="465.4">de thrombus en association</tspan><tspan x="2459.2" y="480">avec l’héparine. Une bonne compréhension</tspan><tspan x="2459.2" y="494.8">du médicament par la patiente favorise l'observance.</tspan></text></g>
<g id="affut"><rect class="n" x="2299.7" y="637.3" width="466" height="116.8" rx="8"/>
<text><tspan x="2532.7" y="667.6">Être à l’affût des signesd’hémorragie ; saignements desgencives et du nez</tspan><tspan x="2532.7" y="682.2">formation inhabituelle d’ecchymoses, selles noires et goudronneuses,</tspan><tspan x="2532.7" y="696.5">héma-turie, chute de l’hématocrite ou de la PA ou</tspan><tspan x="2532.7" y="711.2">présence de sang occultes dans les selles.</tspan><tspan x="2532.7" y="725.9">Cela permet de suivre de près les complications</tspan><tspan x="2532.7" y="740.2">possibles liées à son traitement.</tspan></text></g>
<g id="heparine"><rect class="n" x="2399.3" y="821.8" width="109.1" height="72.7" rx="8"/>
<text><tspan x="2453.8" y="835.3">Héparine</tspan><tspan x="2453.8" y="850.4">5000 unitées</tspan><tspan x="2453.8" y="865.1">0.5 ml</tspan><tspan x="2453.8" y="879.4">(Anticoagulant)</tspan></text></g>
<g id="prevention"><rect class="n" x="2658.6" y="817.8" width="346.8" height="84.5" rx="8"/>
<text><tspan x="2832" y="831.6">Prévention de la formation de thrombus</tspan><tspan x="2832" y="846.4">qui peuvent être causé par</tspan><tspan x="2832" y="861">l’immobilisation due à sa dyspnée.</tspan><tspan x="2832" y="875.7">Cet enseignement permet une meilleure connaissance</tspan><tspan x="2832" y="890">des buts recherchés avec ce médicament.</tspan></text></g>
<g id="constipation"><rect class="n" x="2097.4" y="883.9" width="88.4" height="26.1" rx="7"/><text x="2141.6" y="895.8">constipation</text></g>
<g id="docusate"><rect class="n" x="2033.5" y="971.7" width="130.7" height="56.3" rx="8"/>
<text><tspan x="2098.8" y="984.3">Docusate</tspan><tspan x="2098.8" y="999">100 mg PRN</tspan><tspan x="2098.8" y="1013.7">(Laxatif émollient)</tspan></text></g>
<g id="sennosides"><rect class="n" x="2258.5" y="937" width="127.1" height="70.6" rx="8"/>
<text><tspan x="2322" y="948.4">Sennosides</tspan><tspan x="2322" y="963.5">8.6 mg PRN</tspan><tspan x="2322" y="978.6">(Laxatif stimulant)</tspan></text></g>
<g id="lafreq"><rect class="n" x="2616.4" y="930" width="280.8" height="84.5" rx="8"/>
<text><tspan x="2756.8" y="943.4">Lafréquence des selles,</tspan><tspan x="2756.8" y="958.1">la consistance et la quantité.</tspan><tspan x="2756.8" y="972.8">En présence de diarrhée, cesser le tx.</tspan><tspan x="2756.8" y="987.5">Ce médicament peut aggraver les épisodes</tspan><tspan x="2756.8" y="1002.2">de diarrhée.</tspan></text></g>
<g id="effetlax"><rect class="n" x="2775.6" y="1019.9" width="300.1" height="189.9" rx="8"/>
<text><tspan x="2925.6" y="1049.6">Effet laxatif permettant de soulager la</tspan><tspan x="2925.6" y="1064.3">de la patiente car elle en prenait</tspan><tspan x="2925.6" y="1079">déjà a la maison pour aller à la selle</tspan><tspan x="2925.6" y="1093.3">ainsi que lors de la prise d’analgésiques</tspan><tspan x="2925.6" y="1108">opioïdes qui peuvent causerde la constipation.</tspan><tspan x="2925.6" y="1122.7">Cette connaissance permet èa la</tspan><tspan x="2925.6" y="1137.4">d'avoir une automie par rapport a sa</tspan><tspan x="2925.6" y="1152.1">demandede laxatif en absence de selles.</tspan></text></g>
<g id="traiterconst"><rect class="n" x="2446.5" y="1156.6" width="288.8" height="98.7" rx="8"/>
<text><tspan x="2590.9" y="1170.5">Traiter la constipation due à l’immobilisation</tspan><tspan x="2590.9" y="1185.2">qu’occasionne l’hospita-lisation et due à</tspan><tspan x="2590.9" y="1199.9">l’administration de morphine pouvant</tspan><tspan x="2590.9" y="1214.6">causer de la constipation. La patiente, par</tspan><tspan x="2590.9" y="1229.3">cette connaissance, peut demander son</tspan><tspan x="2590.9" y="1243.6">laxatif en cas d'absence de selle.</tspan></text></g>
<g id="diclofenac"><rect class="n" x="2064.5" y="1189.2" width="191" height="89.2" rx="8"/>
<text><tspan x="2162" y="1220.6">Diclofénac 1.16% qid PRN</tspan><tspan x="2164" y="1235.3">( Anti-inflammatoire&#160; non-</tspan><tspan x="2162" y="1249.6">stéréoidien)</tspan></text></g>
<g id="lafreq2"><rect class="n" x="2243" y="1311.9" width="371.9" height="56.3" rx="8"/>
<text><tspan x="2429" y="1324.6">La fréquence des selles, la consistance et la quantité.</tspan><tspan x="2429" y="1339.3">En présence de diarrhée, cesser le tx. Ce médicament peut</tspan><tspan x="2429" y="1354">aggraver les épisodes de diarrhée.</tspan></text></g>
<g id="survdouleurs"><rect class="n" x="2366.4" y="1451.5" width="288.8" height="86.5" rx="8"/>
<text><tspan x="2510.8" y="1465">Surveiller les effets secondaires ;</tspan><tspan x="2510.8" y="1479.7">douleurs abdominales,</tspan><tspan x="2510.8" y="1494">dyspepsie, brûlure d’estomac et anaphylaxie.</tspan><tspan x="2510.8" y="1508.6">Permet un suivi de la situation durant le tx.</tspan></text></g>
<g id="suppression"><rect class="n" x="2240.9" y="1567.8" width="351.9" height="100.4" rx="8"/>
<text><tspan x="2416.8" y="1580.9">Suppression de la douleur et de</tspan><tspan x="2416.8" y="1595.6">l’inflammation au niveau de son cou</tspan><tspan x="2416.8" y="1609.9">et de ses omoplates. Cette connaissance</tspan><tspan x="2416.8" y="1624.6">permet a la patiente de demander de lui aappliquer sa</tspan><tspan x="2416.8" y="1639.3">crème en cas de dlr afin d'éviter qu'elle ait le temps de</tspan><tspan x="2416.8" y="1653.6">trop augmenter etdevenir plus difficile a soulager.</tspan></text></g>
<g id="calcium"><rect class="n" x="2024.7" y="1445" width="226.3" height="84.1" rx="8"/>
<text><tspan x="2137.8" y="1457.2">Calcium Carbonate (Ca+ et Vit D</tspan><tspan x="2137.8" y="1471.5">500 mg Ca+ et 4 Unités de vit D</tspan><tspan x="2137.8" y="1486.2">Minéraux et électrolytes</tspan><tspan x="2137.8" y="1500.9">(supplément de CA+)</tspan></text></g>
<g id="substitution"><rect class="n" x="2032" y="1719.3" width="203.9" height="69" rx="8"/>
<text><tspan x="2134" y="1732">Substitution de calcium pour</tspan><tspan x="2134" y="1746.6">sa carence en calcium. Permet</tspan><tspan x="2134" y="1761.3">une bonne compréhension de</tspan><tspan x="2134" y="1776">sa médication.</tspan></text></g>
<g id="mesurer"><rect class="n" x="1846.9" y="1832.3" width="333.9" height="73.5" rx="8"/>
<text><tspan x="2013.8" y="1846.6">Mesurer souvent la PA et le PLS car le médicament</tspan><tspan x="2013.8" y="1860.9">car ce médicament peut induire la vasodilatation et</tspan><tspan x="2013.8" y="1875.6">amener a l’hypotension, la bradycardie,</tspan><tspan x="2013.8" y="1890.3">des arythmie et l’arrêt cardiaque.</tspan></text></g>
</svg>
